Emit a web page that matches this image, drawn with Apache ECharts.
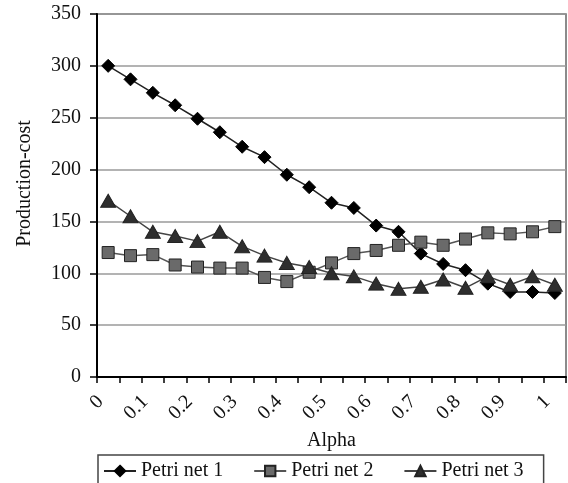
<!DOCTYPE html>
<html>
<head>
<meta charset="utf-8">
<script src="https://cdn.jsdelivr.net/npm/echarts@6/dist/echarts.min.js"></script>
<style>
html,body{margin:0;padding:0;background:#fff;}
#chart{width:568px;height:483px;}
</style>
</head>
<body>
<div id="chart"></div>
<script>
var categories = ['0','0.05','0.1','0.15','0.2','0.25','0.3','0.35','0.4','0.45','0.5','0.55','0.6','0.65','0.7','0.75','0.8','0.85','0.9','0.95','1'];
var petriNet1 = [300, 287, 274, 262, 249, 236, 222, 212, 195, 183, 168, 163, 146, 140, 119, 109, 103, 90, 82, 82, 81];
var petriNet2 = [120, 117, 118, 108, 106, 105, 105, 96, 92, 101, 110, 119, 122, 127, 130, 127, 133, 139, 138, 140, 145];
var petriNet3 = [170, 155, 140, 136, 131, 140, 126, 117, 110, 106, 100, 97, 90, 85, 87, 94, 86, 97, 89, 97, 89];
var seriesNames = ['Petri net 1', 'Petri net 2', 'Petri net 3'];
var yTicks = {min: 0, max: 350, interval: 50};

var font = '"Liberation Serif", "Times New Roman", serif';
var chart = echarts.init(document.getElementById('chart'), null, {renderer: 'canvas'});
chart.setOption({
  animation: false,
  backgroundColor: '#fff',
  grid: {left: 97, right: 2, top: 14, bottom: 106, show: true, borderColor: '#666', borderWidth: 1.5, containLabel: false},
  legend: {
    data: seriesNames,
    top: 455, left: 98,
    orient: 'horizontal',
    padding: [6, 20, 12, 5],
    itemGap: 30,
    itemWidth: 32,
    itemHeight: 13,
    borderColor: '#444',
    borderWidth: 1.5,
    textStyle: {fontFamily: font, fontSize: 20, color: '#111'}
  },
  xAxis: {
    type: 'category',
    data: categories,
    boundaryGap: true,
    name: 'Alpha',
    nameLocation: 'middle',
    nameGap: 49,
    nameTextStyle: {fontFamily: font, fontSize: 20, color: '#111'},
    axisLine: {lineStyle: {color: '#000', width: 2}},
    axisTick: {show: true, interval: 0, alignWithLabel: false, length: 6, lineStyle: {color: '#000', width: 1.5}},
    axisLabel: {interval: 1, rotate: 45, margin: 14, padding: [0, 11, 0, 0], fontFamily: font, fontSize: 20, color: '#111'},
    splitLine: {show: false}
  },
  yAxis: {
    type: 'value',
    min: yTicks.min, max: yTicks.max, interval: yTicks.interval,
    name: 'Production-cost',
    nameLocation: 'middle',
    nameGap: 62,
    nameTextStyle: {fontFamily: font, fontSize: 20, color: '#111', padding: [0, 0, 0, 24]},
    axisLine: {show: true, lineStyle: {color: '#000', width: 2}},
    axisTick: {show: true, length: 7, lineStyle: {color: '#000', width: 1.5}},
    axisLabel: {margin: 16, fontFamily: font, fontSize: 20, color: '#111'},
    splitLine: {show: true, lineStyle: {color: '#9a9a9a', width: 1.5}}
  },
  series: [
    {
      name: seriesNames[0], type: 'line', data: petriNet1,
      symbol: 'diamond', symbolSize: 13,
      lineStyle: {color: '#222', width: 1.5},
      itemStyle: {color: '#000', borderColor: '#000', borderWidth: 1}
    },
    {
      name: seriesNames[1], type: 'line', data: petriNet2,
      symbol: 'rect', symbolSize: 12,
      lineStyle: {color: '#555', width: 1.5},
      itemStyle: {color: '#6a6a6a', borderColor: '#222', borderWidth: 1}
    },
    {
      name: seriesNames[2], type: 'line', data: petriNet3,
      symbol: 'triangle', symbolSize: [15, 13],
      lineStyle: {color: '#444', width: 1.5},
      itemStyle: {color: '#2e2e2e', borderColor: '#222', borderWidth: 1}
    }
  ]
});
</script>
</body>
</html>
